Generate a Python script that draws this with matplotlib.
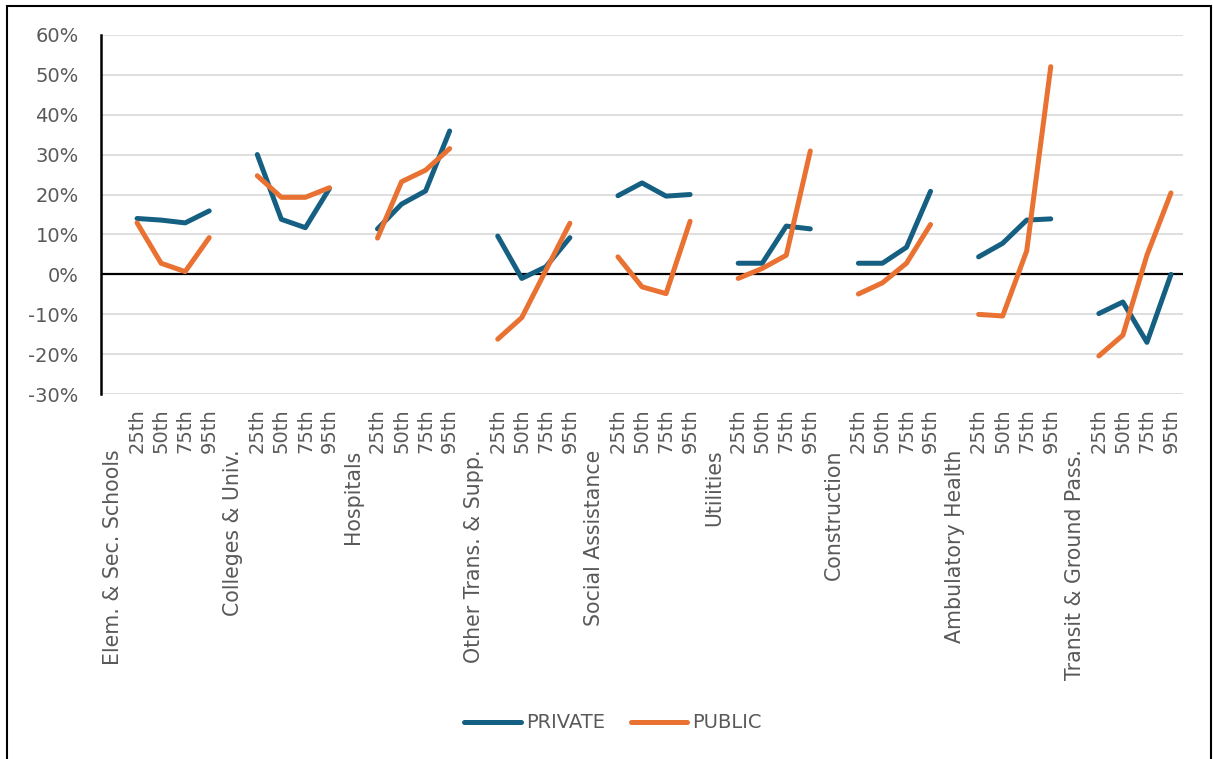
from matplotlib import pyplot as plt
import matplotlib.patches as patches
import numpy as np

groups = ['Elem. & Sec. Schools', 'Colleges & Univ.', 'Hospitals', 'Other Trans. & Supp.',
          'Social Assistance', 'Utilities', 'Construction', 'Ambulatory Health', 'Transit & Ground Pass.']
pct_labels = ['25th', '50th', '75th', '95th']

private = [[14.0, 13.6, 12.9, 15.9],
           [30.0, 13.8, 11.7, 21.5],
           [11.4, 17.6, 20.9, 35.9],
           [9.6, -1.0, 1.9, 9.2],
           [19.7, 22.9, 19.6, 20.0],
           [2.8, 2.8, 12.1, 11.4],
           [2.8, 2.8, 6.8, 20.8],
           [4.4, 7.8, 13.6, 13.9],
           [-9.8, -6.9, -17.0, 0.0]]

public = [[12.9, 2.8, 0.7, 9.2],
          [24.7, 19.3, 19.3, 21.7],
          [9.1, 23.2, 26.1, 31.5],
          [-16.2, -10.8, 1.0, 12.8],
          [4.4, -3.1, -4.8, 13.3],
          [-1.0, 1.5, 4.8, 30.9],
          [-4.9, -2.1, 2.8, 12.5],
          [-10.0, -10.4, 5.9, 52.0],
          [-20.4, -15.2, 4.8, 20.4]]

blue = '#156082'
orange = '#E97132'
grey = '#595959'

plt.rcParams['font.family'] = 'DejaVu Sans'

fig = plt.figure(figsize=(12.13, 7.59), dpi=100)
ax = fig.add_axes([101/1213, 1-394.3/759, (1183-101)/1213, (394.3-34.7)/759])

# each group: one empty slot for the group name, then 4 percentiles
x_all, priv_all, pub_all = [], [], []
tick_pos, tick_txt = [], []
for g in range(len(groups)):
    x_all.append(5*g)
    priv_all.append(np.nan)
    pub_all.append(np.nan)
    for k in range(4):
        x_all.append(5*g+k+1)
        priv_all.append(private[g][k])
        pub_all.append(public[g][k])
        tick_pos.append(5*g+k+1)
        tick_txt.append(pct_labels[k])

priv_all = np.array(priv_all)/100
pub_all = np.array(pub_all)/100

ax.plot(x_all, priv_all, color=blue, lw=3.6, solid_capstyle='round', solid_joinstyle='round', label='PRIVATE', zorder=3)
ax.plot(x_all, pub_all, color=orange, lw=3.6, solid_capstyle='round', solid_joinstyle='round', label='PUBLIC', zorder=4)

ax.set_xlim(-0.5, 44.5)
ax.set_ylim(-0.3, 0.6)
ax.set_yticks(np.arange(-0.3, 0.61, 0.1))
ax.set_yticklabels([f'{v}%' for v in range(-30, 61, 10)], color=grey, fontsize=14)
ax.set_xticks(tick_pos)
ax.set_xticklabels(tick_txt, rotation=90, color=grey, fontsize=14, va='top')
ax.tick_params(axis='x', length=0, pad=10)
ax.tick_params(axis='y', length=0, pad=16)

ax.grid(axis='y', color='#D9D9D9', linewidth=1.2)
ax.set_axisbelow(True)
ax.axhline(0, color='black', lw=1.6, zorder=2)
for s in ['top', 'right', 'bottom']:
    ax.spines[s].set_visible(False)
ax.spines['left'].set_color('black')
ax.spines['left'].set_linewidth(1.8)

for g, name in enumerate(groups):
    ax.text(5*g, -0.153, name, transform=ax.get_xaxis_transform(), rotation=90,
            ha='center', va='top', color=grey, fontsize=14.8)

fig.legend(loc='center', bbox_to_anchor=(613/1213, 1-723/759), ncol=2, frameon=False,
           fontsize=14, handlelength=2.9, handletextpad=0.25, columnspacing=1.35, labelcolor=grey)

fig.patches.append(patches.Rectangle((7/1213, -0.05), (1211-7)/1213, 1.05-6/759, transform=fig.transFigure,
                                     fill=False, edgecolor='black', lw=1.5))

fig.savefig('out.png', dpi=100)
